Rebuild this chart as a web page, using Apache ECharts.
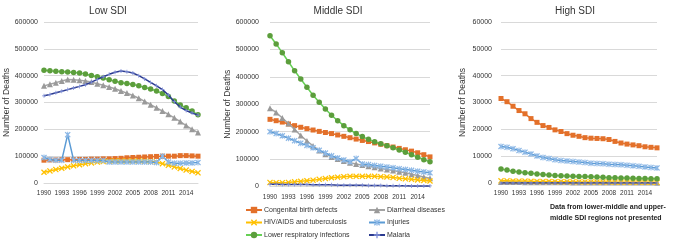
<!DOCTYPE html>
<html><head><meta charset="utf-8">
<script src="https://cdn.jsdelivr.net/npm/echarts@6/dist/echarts.min.js"></script>
<style>html,body{margin:0;padding:0;background:#fff}#c{width:677px;height:240px}</style>
</head><body><div id="c"></div>
<script>
const years = ['1990','1991','1992','1993','1994','1995','1996','1997','1998','1999','2000','2001','2002','2003','2004','2005','2006','2007','2008','2009','2010','2011','2012','2013','2014','2015','2016'];
const panelTitles = ['Low SDI','Middle SDI','High SDI'];
const seriesNames = ['Congenital birth defects','Diarrheal diseases','HIV/AIDS and tuberculosis','Injuries','Lower respiratory infections','Malaria'];

const lowCongenital = [85000,86000,86000,87000,87000,87000,88000,88000,89000,89000,90000,90000,91000,92000,94000,95000,96000,97000,98000,99000,100000,100000,100000,102000,102000,101000,100000];
const lowDiarrheal = [362000,368000,374000,380000,386000,385000,383000,380000,376000,370000,364000,358000,351000,343000,335000,326000,316000,304000,292000,280000,268000,256000,243000,229000,214000,200000,188000];
const lowHiv = [40000,45000,50000,55000,60000,64000,68000,72000,75000,78000,80000,81000,82000,82000,82000,82000,82000,81000,80000,78000,72000,66000,60000,54000,48000,43000,38000];
const lowInjuries = [95000,88000,85000,85000,180000,85000,84000,84000,84000,84000,84000,78000,78000,78000,78000,78000,78000,78000,78000,76000,100000,78000,74000,74000,75000,75000,76000];
const lowLri = [420000,418000,416000,415000,414000,412000,410000,406000,401000,396000,391000,385000,379000,374000,371000,367000,362000,356000,350000,343000,334000,322000,306000,291000,280000,268000,254000];
const lowMalaria = [325000,330000,336000,342000,348000,354000,360000,366000,376000,386000,396000,405000,413000,417000,415000,410000,400000,388000,375000,362000,348000,328000,303000,283000,270000,261000,253000];

const midCongenital = [245000,240000,235000,228000,222000,216000,211000,206000,201000,197000,193000,188000,183000,178000,173000,168000,164000,159000,154000,149000,144000,139000,134000,129000,123000,116000,108000];
const midDiarrheal = [285000,270000,250000,230000,208000,186000,166000,148000,131000,118000,108000,100000,93000,87000,82000,78000,74000,70000,66000,62000,58000,54000,50000,45000,40000,35000,30000];
const midHiv = [15000,14000,14000,15000,17000,19000,21000,23000,26000,29000,32000,34000,36000,37000,37000,37000,37000,37000,36000,35000,33000,30000,28000,26000,24000,22000,20000];
const midInjuries = [200000,193000,185000,176000,167000,158000,150000,141000,132000,122000,112000,104000,97000,90000,102000,82000,80000,77000,74000,71000,68000,65000,62000,59000,56000,53000,50000];
const midLri = [550000,520000,488000,455000,422000,392000,362000,333000,307000,283000,260000,240000,222000,207000,193000,182000,172000,163000,156000,149000,141000,133000,125000,116000,107000,98000,90000];
const midMalaria = [8000,8000,7000,7000,7000,7000,7000,6000,6000,6000,6000,5000,5000,5000,5000,5000,4000,4000,4000,3000,3000,3000,3000,2000,2000,2000,2000];

const highCongenital = [31500,30300,28600,27000,25800,24000,22600,21400,20700,19800,19200,18400,17800,17400,16900,16700,16600,16500,16200,15500,14900,14500,14200,13900,13500,13300,13100];
const highDiarrheal = [400,380,360,340,320,300,290,280,270,260,250,240,230,220,210,200,200,190,180,170,160,160,150,150,140,140,130];
const highHiv = [800,800,750,700,700,650,600,600,550,500,500,450,450,400,400,400,350,350,350,300,300,300,300,250,250,250,250];
const highInjuries = [13600,13300,12800,12100,11500,10800,10100,9500,9100,8700,8400,8200,8000,7800,7600,7400,7300,7200,7000,6900,6800,6600,6400,6200,6000,5800,5600];
const highLri = [5200,4800,4400,4100,3800,3600,3400,3200,3000,2800,2700,2600,2500,2400,2400,2300,2200,2100,2000,2000,1900,1900,1800,1700,1700,1600,1600];
const highMalaria = [20,20,20,20,20,20,20,20,20,20,20,20,20,20,20,20,20,20,20,20,20,20,20,20,20,20,20];

const noteLines = ['Data from lower-middle and upper-','middle SDI regions not presented'];

const panels = [
  [lowCongenital, lowDiarrheal, lowHiv, lowInjuries, lowLri, lowMalaria],
  [midCongenital, midDiarrheal, midHiv, midInjuries, midLri, midMalaria],
  [highCongenital, highDiarrheal, highHiv, highInjuries, highLri, highMalaria]
];

const FONT = 'Liberation Sans';
const TXT = '#333333';
const X_SYM = 'path://M0,1.5L1.5,0L5,3.5L8.5,0L10,1.5L6.5,5L10,8.5L8.5,10L5,6.5L1.5,10L0,8.5L3.5,5Z';
const AST_SYM = 'path://M0,1.5L1.5,0L5,3.5L8.5,0L10,1.5L6.5,5L10,8.5L8.5,10L5,6.5L1.5,10L0,8.5L3.5,5Z M4.2,0H5.8V10H4.2Z';
const PLUS_SYM = 'path://M4,0H6V4H10V6H6V10H4V6H0V4H4Z';

const styles = [
  {line:'#E3702A', item:'#E3702A', symbol:'rect', size:5},
  {line:'#A3A3A3', item:'#9A9A9A', symbol:'triangle', size:6},
  {line:'#FFC000', item:'#FFC000', symbol:X_SYM, size:6},
  {line:'#5B9BD5', item:'#8DB8E6', symbol:AST_SYM, size:6},
  {line:'#66D055', item:'#5C9E3C', symbol:'circle', size:5.5},
  {line:'#2B3A8F', item:'#8090D8', symbol:PLUS_SYM, size:4}
];

const grids = [
  {left:44, top:22, width:154, height:161},
  {left:270, top:22, width:160, height:164.5},
  {left:501, top:22, width:156, height:161}
];
const yMax = [600000, 600000, 60000];
const yInt = [100000, 100000, 10000];
const labelMargin = [6, 11, 9];
const nameGaps = [30, 35, 34];
const titleX = [103, 333, 570];

// legend layout: [seriesIndex, left, top]
const legendSlots = [[0,245,206.5],[2,245,219],[4,245,231.5],[1,368,206.5],[3,368,219],[5,368,231.5]];

const option = {
  animation:false,
  textStyle:{fontFamily:FONT},
  title: panelTitles.map((t,i)=>({text:t, left:titleX[i], top:1, textAlign:'center',
    textStyle:{fontFamily:FONT, fontSize:10, fontWeight:'normal', color:TXT}})),
  grid: grids,
  xAxis: grids.map((g,i)=>({type:'category', gridIndex:i, data:years, boundaryGap:false,
    axisLine:{lineStyle:{color:'#D9D9D9'}}, axisTick:{show:false},
    axisLabel:{interval:2, color:TXT, fontSize:6.5, margin:7, fontFamily:FONT}})),
  yAxis: grids.map((g,i)=>({type:'value', gridIndex:i, min:0, max:yMax[i], interval:yInt[i],
    name:'Number of Deaths', nameLocation:'middle', nameGap:nameGaps[i],
    nameTextStyle:{fontSize:8.5, color:TXT, fontFamily:FONT},
    axisLine:{show:false}, axisTick:{show:false},
    axisLabel:{color:TXT, fontSize:7, margin:labelMargin[i], fontFamily:FONT, formatter:(v)=>String(v)},
    splitLine:{lineStyle:{color:'#D9D9D9', width:1}}})),
  legend: legendSlots.map(([k,l,t])=>({data:[seriesNames[k]], left:l, top:t, padding:0,
     itemWidth:16, itemHeight:8, textStyle:{fontSize:7, color:TXT, fontFamily:FONT, padding:[0,0,0,-3]}})),
  graphic: noteLines.map((t,i)=>({type:'text', left:550, top:204 + i*11,
    style:{text:t, font:'bold 7px "Liberation Sans"', fill:'#222'}})),
  series: []
};

panels.forEach((arrs, p) => {
  arrs.forEach((vals, k) => {
    const s = styles[k];
    option.series.push({
      name: seriesNames[k], type:'line', xAxisIndex:p, yAxisIndex:p, data: vals,
      symbol: s.symbol, symbolSize: s.size, showAllSymbol:true,
      lineStyle:{color:s.line, width:1.5}, itemStyle:{color:s.item, borderWidth:0},
      z: 2 + k
    });
  });
});

const chart = echarts.init(document.getElementById('c'), null, {renderer:'canvas'});
chart.setOption(option);
</script></body></html>
